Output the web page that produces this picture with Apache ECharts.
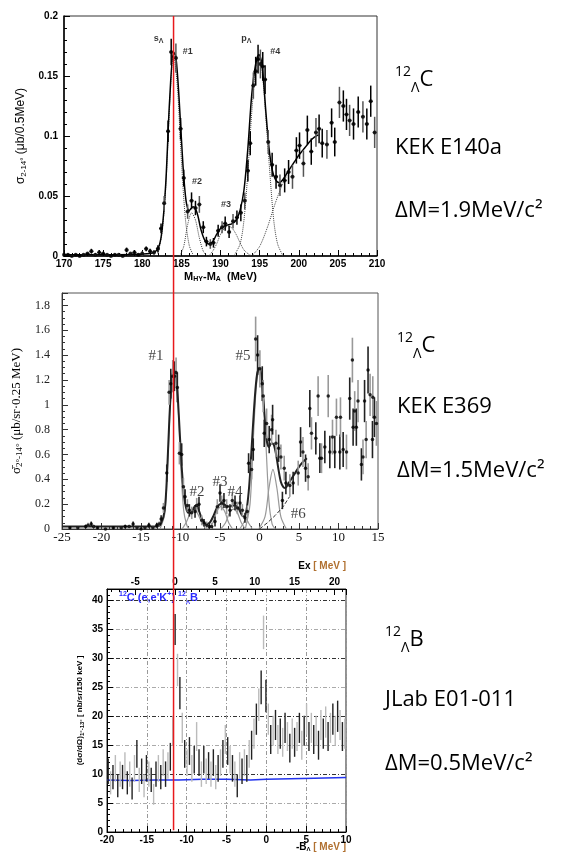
<!DOCTYPE html>
<html><head><meta charset="utf-8">
<script src="https://cdn.jsdelivr.net/npm/echarts@6/dist/echarts.min.js"></script>
<style>html,body{margin:0;padding:0;background:#fff}#c{width:578px;height:853px}</style>
</head><body><div id="c"></div><script>
// ---------- Panel A : KEK E140a  (x = M_HY - M_A, MeV ; y = sigma, ub/0.5MeV) ----------
const kekA_pts = [[170.0,0.001,0.001],[170.5,0.001,0.001],[171.0,0.000,0.001],[171.5,0.001,0.001],[172.0,0.000,0.001],[172.5,0.001,0.001],[173.0,0.002,0.001],[173.5,0.004,0.002],[174.0,0.001,0.001],[174.5,0.003,0.002],[175.0,0.002,0.001],[175.5,0.001,0.001],[176.0,0.000,0.001],[176.5,0.001,0.001],[177.0,0.001,0.001],[177.5,0.000,0.001],[178.0,0.005,0.002],[178.5,0.002,0.001],[179.0,0.003,0.002],[179.5,0.001,0.001],[180.0,0.002,0.002],[180.5,0.006,0.002],[181.0,0.004,0.002],[181.5,0.003,0.002],[182.0,0.006,0.003],[182.4,0.023,0.004],[182.8,0.044,0.006],[183.3,0.104,0.009],[183.7,0.170,0.011],[184.3,0.165,0.012],[184.9,0.106,0.009],[185.3,0.065,0.007],[185.8,0.037,0.006],[186.3,0.046,0.007],[186.8,0.040,0.006],[187.3,0.043,0.007],[187.8,0.024,0.005],[188.2,0.012,0.004],[188.7,0.010,0.004],[189.1,0.011,0.004],[189.7,0.021,0.005],[190.2,0.024,0.005],[190.6,0.027,0.006],[191.1,0.020,0.005],[191.6,0.029,0.006],[192.1,0.032,0.006],[192.6,0.036,0.007],[193.1,0.046,0.007],[193.5,0.071,0.009],[193.8,0.094,0.010],[194.2,0.142,0.011],[194.5,0.154,0.012],[194.8,0.164,0.012],[195.1,0.160,0.012],[195.4,0.158,0.012],[195.7,0.147,0.012],[196.1,0.095,0.010],[196.6,0.076,0.010],[197.1,0.066,0.010],[197.6,0.059,0.009],[198.2,0.063,0.010],[198.7,0.070,0.010],[199.2,0.066,0.010],[199.7,0.088,0.011],[200.1,0.092,0.011],[200.6,0.077,0.011],[201.1,0.105,0.012],[201.6,0.087,0.011],[202.2,0.103,0.012],[202.6,0.106,0.012],[203.0,0.094,0.012],[203.6,0.093,0.012],[204.2,0.111,0.012],[204.6,0.095,0.012],[205.2,0.128,0.013],[205.7,0.125,0.013],[206.1,0.118,0.013],[206.5,0.113,0.013],[207.0,0.110,0.013],[207.6,0.120,0.013],[208.2,0.116,0.013],[208.7,0.110,0.013],[209.2,0.129,0.013],[209.7,0.103,0.013]];
const kekA_binHalf = 0.25;
const kekA_fit = [[170,0.001],[176,0.001],[181,0.002],[182,0.006],[182.5,0.02],[183,0.06],[183.5,0.13],[184,0.17],[184.3,0.166],[184.7,0.132],[185.2,0.076],[185.6,0.046],[186.0,0.038],[186.5,0.041],[187.0,0.036],[187.5,0.022],[188.0,0.013],[188.5,0.010],[189.0,0.012],[189.5,0.018],[190.0,0.023],[190.5,0.025],[191.0,0.026],[191.5,0.027],[192.0,0.030],[192.5,0.038],[193.0,0.055],[193.5,0.090],[194.0,0.135],[194.5,0.160],[194.9,0.168],[195.3,0.160],[195.8,0.120],[196.2,0.090],[196.6,0.072],[197.0,0.064],[197.5,0.061],[198.0,0.064],[198.5,0.069],[199.0,0.074],[199.5,0.079],[200.0,0.084],[200.5,0.088],[201.0,0.092],[201.5,0.096],[202.0,0.099],[202.5,0.101]];
const kekA_c1 = [[182,0.002],[182.5,0.018],[183,0.057],[183.5,0.125],[184,0.168],[184.5,0.140],[185,0.080],[185.5,0.032],[186,0.009],[186.5,0.001]];
const kekA_c2 = [[184.8,0.000],[185.3,0.008],[185.8,0.026],[186.3,0.036],[186.8,0.030],[187.3,0.015],[187.8,0.004],[188.3,0.000]];
const kekA_c3 = [[188.5,0.000],[189,0.004],[189.5,0.010],[190,0.018],[190.5,0.023],[191,0.025],[191.5,0.023],[192,0.018],[192.5,0.011],[193,0.005],[193.5,0.002],[194,0.000]];
const kekA_c4 = [[191.7,0.000],[192.5,0.010],[193,0.030],[193.5,0.070],[194,0.120],[194.5,0.155],[194.9,0.166],[195.3,0.155],[195.8,0.115],[196.3,0.070],[196.8,0.030],[197.3,0.010],[198,0.000]];
const kekA_bg = [[194,0.000],[195,0.008],[196,0.024],[197,0.044],[198,0.061],[198.5,0.067]];
const kekA_labels = [[182.1,0.181,'s{sub|Λ}'],[185.8,0.170,'#1'],[193.3,0.181,'p{sub|Λ}'],[197.0,0.170,'#4'],[187.0,0.062,'#2'],[190.7,0.043,'#3']];

// ---------- Panel B : KEK E369 (x = Ex, MeV ; y = sigma, ub/sr/0.25MeV) ----------
const kekB_pts = [[-24.0,0.01,0.01],[-23.0,0.01,0.01],[-22.0,0.02,0.015],[-21.7,0.03,0.02],[-21.3,0.04,0.02],[-21.0,0.02,0.015],[-20.5,0.01,0.01],[-19.5,0.00,0.01],[-18.5,0.01,0.01],[-17.5,0.01,0.01],[-17.0,0.02,0.015],[-16.5,0.02,0.015],[-16.0,0.04,0.02],[-15.5,0.01,0.01],[-15.0,0.00,0.01],[-14.5,0.01,0.01],[-14.0,0.03,0.02],[-13.5,0.01,0.015],[-13.0,0.03,0.02],[-12.7,0.04,0.02],[-12.45,0.08,0.03],[-12.16,0.17,0.04],[-11.74,0.45,0.07],[-11.44,1.10,0.10],[-11.23,1.17,0.12],[-10.98,1.23,0.13],[-10.77,1.23,0.12],[-10.56,1.26,0.12],[-10.4,1.14,0.12],[-10.14,0.61,0.09],[-9.85,0.60,0.09],[-9.63,0.34,0.07],[-9.42,0.26,0.06],[-9.13,0.19,0.05],[-8.88,0.15,0.05],[-8.58,0.13,0.05],[-8.16,0.14,0.05],[-7.95,0.19,0.06],[-7.66,0.20,0.06],[-7.31,0.07,0.04],[-7.02,0.05,0.03],[-6.68,0.03,0.03],[-6.35,0.02,0.03],[-6.05,0.02,0.03],[-5.63,0.06,0.04],[-5.34,0.18,0.06],[-5.0,0.29,0.07],[-4.79,0.21,0.06],[-4.5,0.23,0.06],[-4.16,0.18,0.06],[-3.74,0.15,0.05],[-3.44,0.23,0.06],[-3.1,0.21,0.06],[-2.8,0.17,0.05],[-2.47,0.21,0.06],[-2.17,0.15,0.05],[-1.84,0.09,0.04],[-1.54,0.14,0.05],[-1.38,0.53,0.08],[-1.0,0.48,0.08],[-0.79,0.64,0.09],[-0.49,1.53,0.18],[-0.24,1.40,0.16],[0.05,1.29,0.15],[0.35,1.17,0.14],[0.47,1.07,0.13],[0.6,0.77,0.11],[0.9,0.85,0.12],[1.23,0.72,0.11],[1.53,0.80,0.12],[1.66,0.88,0.12],[2.08,0.69,0.11],[2.42,0.65,0.11],[2.71,0.58,0.10],[2.9,0.23,0.07],[3.13,0.49,0.10],[3.34,0.37,0.09],[3.84,0.35,0.09],[4.26,0.37,0.09],[4.9,0.45,0.10],[5.2,0.70,0.12],[5.5,0.62,0.12],[5.83,0.49,0.11],[6.16,0.42,0.11],[6.37,0.97,0.15],[6.58,0.77,0.13],[7.13,0.73,0.13],[7.42,1.07,0.16],[7.64,0.57,0.12],[7.85,0.57,0.12],[8.27,0.66,0.13],[8.7,1.07,0.17],[8.9,0.62,0.13],[9.24,0.74,0.14],[9.53,0.62,0.13],[9.74,0.90,0.15],[10.17,0.62,0.14],[10.25,0.90,0.16],[10.59,0.64,0.14],[11.01,0.62,0.14],[11.42,1.05,0.17],[11.76,1.36,0.18],[11.85,0.82,0.15],[12.05,0.95,0.16],[12.26,0.82,0.15],[12.47,1.03,0.17],[12.9,0.52,0.13],[13.1,0.58,0.14],[13.3,1.03,0.17],[13.5,0.72,0.15],[13.74,1.28,0.19],[14.0,1.08,0.17],[14.3,0.72,0.15],[14.34,1.06,0.17],[14.55,0.90,0.16],[14.8,0.85,0.18]];
const kekB_fit = [[-25,0.02],[-13,0.02],[-12.5,0.04],[-12,0.15],[-11.7,0.45],[-11.4,0.9],[-11.1,1.2],[-10.8,1.28],[-10.5,1.2],[-10.2,0.9],[-9.9,0.55],[-9.6,0.3],[-9.3,0.17],[-9.0,0.13],[-8.7,0.13],[-8.4,0.16],[-8.1,0.19],[-7.8,0.17],[-7.4,0.1],[-7.0,0.05],[-6.6,0.04],[-6.2,0.06],[-5.8,0.11],[-5.4,0.17],[-5.0,0.2],[-4.6,0.2],[-4.2,0.19],[-3.8,0.18],[-3.4,0.19],[-3.0,0.19],[-2.6,0.16],[-2.2,0.11],[-1.9,0.1],[-1.6,0.17],[-1.3,0.35],[-1.0,0.65],[-0.6,1.05],[-0.3,1.25],[0,1.3],[0.3,1.2],[0.6,0.95],[0.9,0.72],[1.2,0.66],[1.5,0.69],[1.8,0.68],[2.1,0.6],[2.4,0.48],[2.7,0.38],[3.0,0.34],[3.3,0.33],[3.6,0.36],[4.0,0.40],[4.5,0.45],[5.0,0.5],[5.5,0.54],[6.0,0.57]];
const kekB_g1 = [[-12.6,0],[-12.0,0.12],[-11.6,0.55],[-11.2,1.1],[-10.8,1.27],[-10.4,1.1],[-10.0,0.55],[-9.6,0.15],[-9.2,0.03],[-8.9,0]];
const kekB_g2 = [[-9.8,0],[-9.3,0.05],[-8.8,0.12],[-8.3,0.16],[-7.8,0.12],[-7.3,0.05],[-6.8,0]];
const kekB_g3 = [[-6.4,0],[-5.9,0.05],[-5.4,0.14],[-4.9,0.18],[-4.4,0.14],[-3.9,0.05],[-3.4,0]];
const kekB_g4 = [[-4.9,0],[-4.3,0.05],[-3.8,0.13],[-3.3,0.16],[-2.8,0.13],[-2.3,0.05],[-1.8,0]];
const kekB_g4b = [[-2.5,0],[-2.0,0.05],[-1.7,0.08],[-1.4,0.05],[-0.9,0]];
const kekB_g5 = [[-1.8,0],[-1.2,0.2],[-0.8,0.7],[-0.4,1.15],[0,1.3],[0.4,1.15],[0.8,0.7],[1.2,0.22],[1.6,0.04],[2.0,0]];
const kekB_g6 = [[-0.1,0],[0.7,0.1],[1.2,0.33],[1.7,0.48],[2.2,0.33],[2.7,0.1],[3.4,0]];
const kekB_bg = [[0,0],[1,0.05],[2,0.11],[3,0.18],[3.8,0.26]];
const kekB_labels = [[-13.1,1.39,'#1'],[-2.1,1.39,'#5'],[-7.9,0.30,'#2'],[-5.0,0.38,'#3'],[-3.1,0.30,'#4'],[4.9,0.12,'#6']];

// ---------- Panel C : JLab E01-011 (x = -B_Lambda, MeV ; y = dσ/dΩ nb/sr/150keV) ----------
const jlab_pts = [[-19.85,10.5,2.2],[-19.55,8.5,2.0],[-19.25,9.5,2.1],[-18.95,11.0,2.3],[-18.65,8.0,2.0],[-18.35,10.0,2.2],[-18.05,9.5,2.1],[-17.75,11.5,2.3],[-17.45,8.5,2.0],[-17.15,10.0,2.2],[-16.85,7.5,1.9],[-16.55,11.0,2.3],[-16.25,13.5,2.4],[-15.95,9.0,2.1],[-15.65,10.5,2.2],[-15.35,8.0,2.0],[-15.05,11.0,2.3],[-14.75,10.0,2.2],[-14.45,9.0,2.1],[-14.15,6.5,1.8],[-13.85,10.0,2.2],[-13.55,11.0,2.3],[-13.25,9.5,2.1],[-12.95,12.0,2.3],[-12.65,10.0,2.2],[-12.35,11.5,2.3],[-12.05,13.0,2.4],[-11.75,17.5,2.6],[-11.45,35.0,2.7],[-11.15,28.0,2.8],[-10.85,24.0,2.8],[-10.55,18.0,2.6],[-10.25,13.5,2.4],[-9.95,12.0,2.3],[-9.65,14.0,2.4],[-9.35,11.0,2.3],[-9.05,12.5,2.4],[-8.75,16.5,2.5],[-8.45,12.0,2.3],[-8.15,10.0,2.2],[-7.85,12.5,2.4],[-7.55,10.5,2.2],[-7.25,11.5,2.3],[-6.95,10.0,2.2],[-6.65,12.0,2.3],[-6.35,9.5,2.1],[-6.05,11.0,2.3],[-5.75,12.0,2.3],[-5.45,13.5,2.4],[-5.15,16.0,2.5],[-4.85,14.0,2.4],[-4.55,12.5,2.4],[-4.25,11.0,2.3],[-3.95,10.0,2.2],[-3.65,8.0,2.0],[-3.35,11.5,2.3],[-3.05,10.5,2.2],[-2.75,12.0,2.3],[-2.45,11.0,2.3],[-2.15,13.5,2.4],[-1.85,15.0,2.5],[-1.55,17.0,2.6],[-1.25,19.5,2.7],[-0.95,22.0,2.8],[-0.65,25.0,2.9],[-0.35,34.5,2.9],[-0.05,23.5,2.8],[0.25,19.5,2.7],[0.55,16.0,2.5],[0.85,17.5,2.6],[1.15,18.5,2.6],[1.45,16.0,2.5],[1.75,17.0,2.6],[2.05,15.5,2.5],[2.35,18.0,2.6],[2.65,16.5,2.5],[2.95,14.5,2.5],[3.25,17.0,2.6],[3.55,15.5,2.5],[3.85,16.5,2.5],[4.15,18.0,2.6],[4.45,15.0,2.5],[4.75,17.5,2.6],[5.05,19.5,2.7],[5.35,16.5,2.5],[5.65,18.0,2.6],[5.95,16.0,2.5],[6.25,17.5,2.6],[6.55,15.0,2.5],[6.85,18.5,2.6],[7.15,17.0,2.6],[7.45,19.0,2.7],[7.75,16.5,2.5],[8.05,18.0,2.6],[8.35,19.5,2.7],[8.65,17.5,2.6],[8.95,20.0,2.7],[9.25,18.5,2.6],[9.55,16.5,2.5],[9.85,17.0,2.6]];
const jlab_bg = [[-20,9.0],[-17,8.9],[-14,9.0],[-11,9.0],[-8,9.1],[-5,9.1],[-2,9.0],[0,9.1],[3,9.2],[6,9.3],[10,9.4]];
const jlab_exShift = 11.45;   // Ex = -B_Lambda + B_Lambda(g.s.)

// reference (red) line, in panel A units
const refLineMeV = 184.0;

// right-hand captions
const captions = [
  {nuc:'C', exp:'KEK E140a', dm:'ΔM=1.9MeV/c²'},
  {nuc:'C', exp:'KEK E369',  dm:'ΔM=1.5MeV/c²'},
  {nuc:'B', exp:'JLab E01-011', dm:'ΔM=0.5MeV/c²'}
];

// ---------------------------------------------------------------------
const SANS = 'Liberation Sans, Arial, sans-serif';
const SERIF = 'Liberation Serif, Times New Roman, serif';
const chart = echarts.init(document.getElementById('c'), null, {renderer:'canvas'});

function errSeries(xi, yi, data, colors, halfW, lw) {
  return {type:'custom', xAxisIndex:xi, yAxisIndex:yi, data, clip:true, z:3, silent:true,
    renderItem(params, api) {
      const x = api.value(0), y = api.value(1), e = api.value(2);
      const c = colors[params.dataIndex % colors.length];
      const a = api.coord([x, y - e]), b = api.coord([x, y + e]);
      const ch = [{type:'line', shape:{x1:a[0],y1:a[1],x2:b[0],y2:b[1]}, style:{stroke:c, lineWidth:lw}}];
      if (halfW) {
        const l = api.coord([x - halfW, y]), r = api.coord([x + halfW, y]);
        ch.push({type:'line', shape:{x1:l[0],y1:l[1],x2:r[0],y2:r[1]}, style:{stroke:c, lineWidth:1}});
      }
      return {type:'group', children:ch};
    }};
}
function dots(xi, yi, data, size) {
  return {type:'scatter', xAxisIndex:xi, yAxisIndex:yi, data:data.map(d=>[d[0],d[1]]), symbolSize:size,
    itemStyle:{color:'#000'}, z:4, silent:true};
}
function curve(xi, yi, data, color, width, type, smooth) {
  return {type:'line', xAxisIndex:xi, yAxisIndex:yi, data, showSymbol:false, smooth:smooth===undefined?0.3:smooth,
    lineStyle:{color, width, type}, z:2, silent:true, clip:true};
}
function labels(xi, yi, data, textStyle) {
  return {type:'scatter', xAxisIndex:xi, yAxisIndex:yi, data, symbolSize:1, itemStyle:{color:'rgba(0,0,0,0)'},
    silent:true, z:6, label:Object.assign({show:true, position:'inside', formatter:p=>p.value[2]}, textStyle)};
}
const mult = (v, s) => Math.abs(v/s - Math.round(v/s)) < 1e-6;

const option = {
  animation:false,
  backgroundColor:'#fff',
  grid:[
    {left:64, top:16, width:313, height:240, show:true, borderColor:'#333', borderWidth:1, backgroundColor:'transparent'},
    {left:62, top:293, width:316, height:236, show:true, borderColor:'#555', borderWidth:1, backgroundColor:'transparent'},
    {left:107, top:589, width:239, height:243, show:true, borderColor:'#222', borderWidth:1, backgroundColor:'transparent'}
  ],
  xAxis:[
    {gridIndex:0, type:'value', min:170, max:210, interval:5,
     axisLine:{onZero:false, lineStyle:{color:'#000', width:1.5}},
     axisTick:{inside:true, length:6, lineStyle:{color:'#000'}}, minorTick:{show:true, splitNumber:5, length:3, lineStyle:{color:'#000'}},
     splitLine:{show:false},
     axisLabel:{fontFamily:SANS, fontWeight:'bold', fontSize:10, color:'#000', margin:3},
     name:'M{s|HY}-M{s|A}  (MeV)', nameLocation:'middle', nameGap:14,
     nameTextStyle:{fontFamily:SANS, fontWeight:'bold', fontSize:11, color:'#000', rich:{s:{fontSize:7, fontWeight:'bold', fontFamily:SANS, verticalAlign:'bottom', padding:[6,0,0,0]}}}},
    {gridIndex:1, type:'value', min:-25, max:15, interval:5,
     axisLine:{onZero:false, lineStyle:{color:'#333'}},
     axisTick:{inside:true, length:6, lineStyle:{color:'#333'}}, minorTick:{show:true, splitNumber:5, length:3, lineStyle:{color:'#333'}},
     splitLine:{show:false},
     axisLabel:{fontFamily:SERIF, fontSize:13, color:'#111', margin:2}},
    {gridIndex:2, type:'value', min:-20, max:10, interval:5, position:'bottom',
     axisLine:{onZero:false, lineStyle:{color:'#000'}},
     axisTick:{inside:true, length:6, lineStyle:{color:'#000'}}, minorTick:{show:true, splitNumber:5, length:3, lineStyle:{color:'#000'}},
     splitLine:{show:true, lineStyle:{color:'#999', type:[4,2,1,2], width:1}},
     axisLabel:{fontFamily:SANS, fontWeight:'bold', fontSize:10, color:'#000', margin:3}},
    {gridIndex:2, type:'value', position:'top', min:-20 + jlab_exShift, max:10 + jlab_exShift,
     axisLine:{onZero:false, lineStyle:{color:'#000'}},
     axisTick:{inside:true, length:6, lineStyle:{color:'#000'}}, minorTick:{show:true, splitNumber:5, length:3, lineStyle:{color:'#000'}},
     splitLine:{show:false},
     axisLabel:{fontFamily:SANS, fontWeight:'bold', fontSize:10, color:'#000', margin:2,
       formatter:v => mult(v,5) ? String(Math.round(v)) : ''}}
  ],
  yAxis:[
    {gridIndex:0, type:'value', min:0, max:0.2, interval:0.05,
     axisLine:{onZero:false, lineStyle:{color:'#000', width:1.5}},
     axisTick:{inside:true, length:6, lineStyle:{color:'#000'}}, minorTick:{show:true, splitNumber:5, length:3, lineStyle:{color:'#000'}},
     splitLine:{show:false},
     axisLabel:{fontFamily:SANS, fontWeight:'bold', fontSize:10, color:'#000', margin:6},
     name:'σ{s|2-14°} (μb/0.5MeV)', nameLocation:'middle', nameGap:33, nameRotate:90,
     nameTextStyle:{fontFamily:SANS, fontSize:12, color:'#000', rich:{s:{fontSize:8, fontFamily:SANS, verticalAlign:'bottom', padding:[6,0,0,0]}}}},
    {gridIndex:1, type:'value', min:0, max:1.9, interval:0.2,
     axisLine:{onZero:false, lineStyle:{color:'#333'}},
     axisTick:{inside:true, length:6, lineStyle:{color:'#333'}}, minorTick:{show:true, splitNumber:4, length:3, lineStyle:{color:'#333'}},
     splitLine:{show:false},
     axisLabel:{fontFamily:SERIF, fontSize:12, color:'#222', margin:12, formatter:v => mult(v,0.2) ? String(Math.round(v*10)/10) : ''},
     name:'σ̄{s|2°-14°} (μb/sr·0.25 MeV)', nameLocation:'middle', nameGap:30, nameRotate:90,
     nameTextStyle:{fontFamily:SERIF, fontSize:13, color:'#000', rich:{s:{fontSize:9, fontFamily:SERIF, verticalAlign:'bottom', padding:[6,0,0,0]}}}},
    {gridIndex:2, type:'value', min:0, max:42, interval:5,
     axisLine:{onZero:false, lineStyle:{color:'#000'}},
     axisTick:{inside:true, length:6, lineStyle:{color:'#000'}}, minorTick:{show:true, splitNumber:5, length:3, lineStyle:{color:'#000'}},
     splitLine:{show:true, lineStyle:{color:['#333','#aaa'], type:[4,2,1,2], width:1}},
     axisLabel:{fontFamily:SANS, fontWeight:'bold', fontSize:10, color:'#000', margin:4, formatter:v => mult(v,5) ? String(Math.round(v)) : ''},
     name:'(dσ/dΩ){s|1°-13°} [ nb/sr/150 keV ]', nameLocation:'middle', nameGap:22, nameRotate:90,
     nameTextStyle:{fontFamily:SANS, fontWeight:'bold', fontSize:8, color:'#000', rich:{s:{fontSize:6, fontWeight:'bold', fontFamily:SANS, verticalAlign:'bottom', padding:[4,0,0,0]}}}}
  ],
  series:[
    // Panel A
    curve(0,0,kekA_c1,'#444',1,'dotted'),
    curve(0,0,kekA_c2,'#444',1,'dotted'),
    curve(0,0,kekA_c3,'#444',1,'dotted'),
    curve(0,0,kekA_c4,'#444',1,'dotted'),
    curve(0,0,kekA_bg,'#444',1,'dotted'),
    curve(0,0,kekA_fit,'#000',1.5,'solid'),
    errSeries(0,0,kekA_pts,['#000','#000','#555'],kekA_binHalf,1.5),
    dots(0,0,kekA_pts,4),
    labels(0,0,kekA_labels,{fontFamily:SANS, fontWeight:'bold', fontSize:9, color:'#000',
      rich:{sub:{fontSize:7, fontWeight:'bold', fontFamily:SANS, verticalAlign:'bottom', padding:[4,0,0,0]}}}),
    // Panel B
    curve(1,1,kekB_g1,'#999',1.2,'solid'),
    curve(1,1,kekB_g2,'#999',1.2,'solid'),
    curve(1,1,kekB_g3,'#999',1.2,'solid'),
    curve(1,1,kekB_g4,'#999',1.2,'solid'),
    curve(1,1,kekB_g4b,'#999',1.2,'solid'),
    curve(1,1,kekB_g5,'#999',1.2,'solid'),
    curve(1,1,kekB_g6,'#999',1.2,'solid'),
    curve(1,1,kekB_bg,'#333',1,'dashed',0),
    errSeries(1,1,kekB_pts,['#222','#999'],0,1.6),
    curve(1,1,kekB_fit,'#222',2,'solid'),
    dots(1,1,kekB_pts,3.5),
    labels(1,1,kekB_labels,{fontFamily:SERIF, fontSize:15, color:'#111'}),
    // Panel C
    errSeries(2,2,jlab_pts,['#222','#bbb'],0,1.4),
    curve(2,2,jlab_bg,'#2233ee',1.5,'solid',0)
  ],
  graphic:[]
};
chart.setOption(option);

// texts and reference line
const g = [];
const captionY = [[80,148,211],[346,407,471],[640,700,764]];
const captionX = [395, 397, 385];
captions.forEach((c,i) => {
  g.push({type:'text', x:captionX[i], y:captionY[i][0], style:{
    text:'{sup|12}{sub|Λ}{m|'+c.nuc+'}', verticalAlign:'middle', fill:'#000',
    rich:{sup:{fontSize:14, fontFamily:'Open Sans', verticalAlign:'top', lineHeight:30},
          sub:{fontSize:14, fontFamily:'Open Sans', verticalAlign:'bottom', lineHeight:30, padding:[0,0,0,0]},
          m:{fontSize:22, fontFamily:'Open Sans', lineHeight:30}}}});
  g.push({type:'text', x:captionX[i], y:captionY[i][1], style:{text:c.exp, font:'22px "Open Sans"', fill:'#000', verticalAlign:'middle'}});
  g.push({type:'text', x:captionX[i], y:captionY[i][2], style:{text:c.dm, font:'22px "Open Sans"', fill:'#000', verticalAlign:'middle'}});
});
g.push({type:'text', x:119, y:598, style:{text:'{s|12}C (e,e\'K{s|+}) {s|12}{u|Λ}B', fill:'#2a2aff', verticalAlign:'middle',
  font:'bold 11px Liberation Sans', rich:{s:{fontSize:7, fontWeight:'bold', fill:'#2a2aff', verticalAlign:'top', lineHeight:14},
  u:{fontSize:6, fontWeight:'bold', fill:'#2a2aff', verticalAlign:'bottom', lineHeight:14}}}});
g.push({type:'text', x:346, y:566, style:{text:'Ex {b|[ MeV ]}', align:'right', verticalAlign:'middle', fill:'#000',
  font:'bold 10px Liberation Sans', rich:{b:{fill:'#b07030', fontWeight:'bold', fontSize:10}}}});
g.push({type:'text', x:346, y:847, style:{text:'-B{u|Λ} {b|[ MeV ]}', align:'right', verticalAlign:'middle', fill:'#000',
  font:'bold 10px Liberation Sans', rich:{b:{fill:'#b07030', fontWeight:'bold', fontSize:10}, u:{fontSize:6, fontWeight:'bold', verticalAlign:'bottom'}}}});

const px = chart.convertToPixel({xAxisIndex:0}, refLineMeV);
const yTop = chart.convertToPixel({yAxisIndex:0}, 0.2);
const yBot = chart.convertToPixel({yAxisIndex:2}, 0.3);
g.push({type:'line', shape:{x1:px, y1:yTop, x2:px, y2:yBot}, style:{stroke:'#e8191c', lineWidth:1.5}, z:100});
chart.setOption({graphic:g});
</script></body></html>
